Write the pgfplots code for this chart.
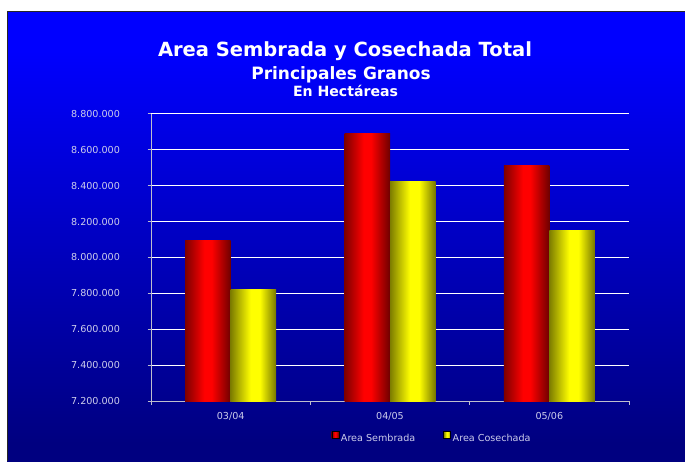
\documentclass[border=0pt]{standalone}
\usepackage{pgfplots}
\pgfplotsset{compat=1.18}
\usepackage{fontspec}
\setmainfont{DejaVu Sans}
\definecolor{tickcol}{RGB}{205,205,235}
\definecolor{axcol}{RGB}{190,190,205}
\definecolor{navy}{RGB}{0,0,128}
\definecolor{dred}{RGB}{125,0,0}
\definecolor{dred2}{RGB}{110,0,0}
\definecolor{dyel}{RGB}{125,125,0}
\definecolor{dyel2}{RGB}{118,118,0}
\pgfdeclarehorizontalshading{redcyl}{100bp}{color(0bp)=(dred); color(25bp)=(dred); color(46bp)=(red); color(54bp)=(red); color(75bp)=(dred2); color(100bp)=(dred2)}
\pgfdeclarehorizontalshading{yelcyl}{100bp}{color(0bp)=(dyel); color(25bp)=(dyel); color(47bp)=(yellow); color(57bp)=(yellow); color(75bp)=(dyel2); color(100bp)=(dyel2)}
\pgfdeclareverticalshading{bgshade}{100bp}{color(0bp)=(navy); color(27bp)=(navy); color(71bp)=(blue); color(100bp)=(blue)}
\begin{document}
\begin{tikzpicture}[x=1pt,y=1pt]
\useasboundingbox (0,0) rectangle (685,461);
\fill[white] (0,0) rectangle (685,461);
\shade[shading=bgshade] (7,0) rectangle (685,449.3);
\draw[black!85, line width=0.8pt] (7,0) -- (7,449.3) -- (685,449.3);
\node[anchor=base, text=white, font=\bfseries\fontsize{19.5}{22}\selectfont] at (345,404) {Area Sembrada y Cosechada Total};
\node[anchor=base, text=white, font=\bfseries\fontsize{17}{20}\selectfont] at (341,381) {Principales Granos};
\node[anchor=base, text=white, font=\bfseries\fontsize{14.1}{16}\selectfont] at (345.5,364) {En Hectáreas};
\begin{axis}[
  at={(151pt,60pt)}, anchor=south west, scale only axis,
  width=478pt, height=287pt,
  xmin=-0.5, xmax=2.5, ymin=7200000, ymax=8800000,
  enlargelimits=false,
  ytick={7200000,7400000,7600000,7800000,8000000,8200000,8400000,8600000,8800000},
  xtick={-0.5,0.5,1.5,2.5}, xticklabels={},
  extra x ticks={0,1,2}, extra x tick labels={03/04,04/05,05/06},
  extra x tick style={major tick length=0pt},
  axis lines*=left,
  axis line style={axcol, line width=1pt},
  tick align=outside, major tick length=3.5pt,
  tick style={axcol, line width=1pt},
  ymajorgrids, grid style={white, line width=1pt},
  scaled y ticks=false,
  /pgf/number format/fixed,
  /pgf/number format/precision=0,
  /pgf/number format/1000 sep={.},
  /pgf/number format/assume math mode=true,
  tick label style={font=\fontsize{9.6}{11}\selectfont, text=tickcol},
  yticklabel style={xshift=-24pt},
  xticklabel style={yshift=-8pt},
  legend style={draw=none, fill=none, text=tickcol, font=\fontsize{9.6}{11}\selectfont,
    at={(0.588,-0.129)}, anchor=center, legend columns=2,
    /tikz/every even column/.append style={column sep=26pt}},
  legend cell align=left,
]
\addplot[ybar, bar width=45.5pt, bar shift=-22.75pt, draw=none, shade, shading=redcyl, forget plot] coordinates {(0,8092000)};
\addplot[ybar, bar width=45.5pt, bar shift=-22.75pt, draw=none, shade, shading=redcyl, forget plot] coordinates {(1,8693000)};
\addplot[ybar, bar width=45.5pt, bar shift=-22.75pt, draw=none, shade, shading=redcyl, forget plot] coordinates {(2,8511000)};
\addplot[ybar, bar width=45.5pt, bar shift=22.75pt, draw=none, shade, shading=yelcyl, forget plot] coordinates {(0,7819000)};
\addplot[ybar, bar width=45.5pt, bar shift=22.75pt, draw=none, shade, shading=yelcyl, forget plot] coordinates {(1,8421000)};
\addplot[ybar, bar width=45.5pt, bar shift=22.75pt, draw=none, shade, shading=yelcyl, forget plot] coordinates {(2,8153000)};
\addlegendimage{legend image code/.code={\shade[shading=redcyl] (0pt,0pt) rectangle (7pt,7.5pt);}}
\addlegendentry{Area Sembrada}
\addlegendimage{legend image code/.code={\shade[shading=yelcyl] (0pt,0pt) rectangle (7pt,7.5pt);}}
\addlegendentry{Area Cosechada}
\end{axis}
\end{tikzpicture}
\end{document}
